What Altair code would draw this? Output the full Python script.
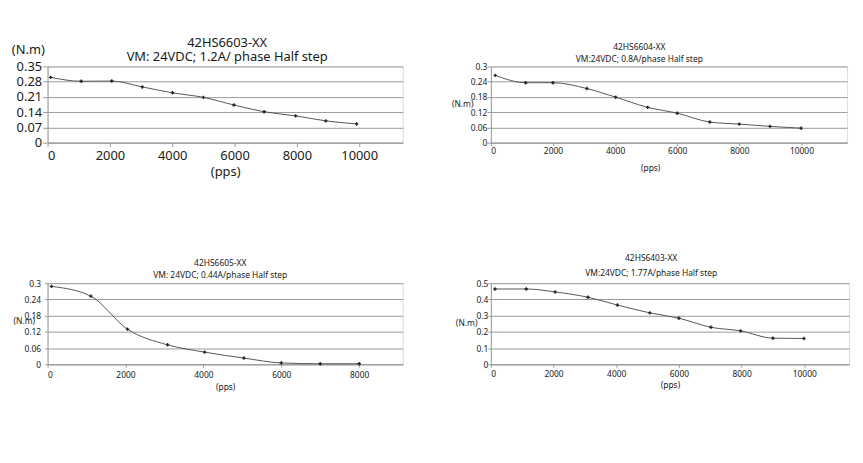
import altair as alt
import pandas as pd

# ---- data ----
p1_x = [100, 1080, 2060, 3040, 4010, 5000, 5980, 6950, 7960, 8930, 9920]
p1_y = [0.300, 0.282, 0.283, 0.256, 0.229, 0.208, 0.173, 0.142, 0.123, 0.100, 0.086]
p1_title = ["42HS6603-XX", "VM: 24VDC; 1.2A/ phase  Half step"]
p1_yticks = [0, 0.07, 0.14, 0.21, 0.28, 0.35]

p2_x = [140, 1120, 2000, 3090, 4020, 5050, 6000, 7050, 8000, 8990, 9990]
p2_y = [0.265, 0.236, 0.236, 0.213, 0.179, 0.139, 0.116, 0.081, 0.073, 0.064, 0.057]
p2_title = ["42HS6604-XX", "VM:24VDC; 0.8A/phase Half step"]
p2_yticks = [0, 0.06, 0.12, 0.18, 0.24, 0.3]

p3_x = [100, 1110, 2050, 3080, 4030, 5040, 6000, 7000, 8000]
p3_y = [0.288, 0.252, 0.130, 0.072, 0.045, 0.023, 0.005, 0.002, 0.002]
p3_title = ["42HS6605-XX", "VM: 24VDC; 0.44A/phase  Half step"]
p3_yticks = [0, 0.06, 0.12, 0.18, 0.24, 0.3]

p4_x = [130, 1130, 2050, 3100, 4040, 5070, 6000, 7020, 7970, 9000, 9990]
p4_y = [0.464, 0.464, 0.446, 0.413, 0.365, 0.317, 0.284, 0.228, 0.206, 0.161, 0.159]
p4_title = ["42HS6403-XX", "VM:24VDC; 1.77A/phase Half step"]
p4_yticks = [0, 0.1, 0.2, 0.3, 0.4, 0.5]

x_ticks_10k = [0, 2000, 4000, 6000, 8000, 10000]
x_ticks_8k = [0, 2000, 4000, 6000, 8000]

FONT = "Noto Sans"
TXT = "#1a1a1a"
GRID = "#9a9a9a"


def panel(xs, ys, title, yticks, ymax, xticks, xmax, w, h, fs,
          t_dx, t_off, t_lh, yt_x, yt_y, y_tick, y_pad, x_tick, x_pad,
          xt_pad, xt_x=None):
    df = pd.DataFrame({"pps": xs, "nm": ys})
    xaxis = dict(values=xticks, format="d", grid=False, labelFontSize=fs,
                 titleFontSize=fs, tickSize=x_tick, labelPadding=x_pad,
                 titlePadding=xt_pad, titleFontWeight="normal",
                 domainColor=GRID, tickColor=GRID, labelColor=TXT,
                 titleColor=TXT, labelFont=FONT, titleFont=FONT)
    if xt_x is not None:
        xaxis["titleX"] = xt_x
    x = alt.X("pps:Q", title="(pps)",
              scale=alt.Scale(domain=[0, xmax], nice=False, zero=True),
              axis=alt.Axis(**xaxis))
    y = alt.Y("nm:Q", title="(N.m)",
              scale=alt.Scale(domain=[0, ymax], nice=False),
              axis=alt.Axis(values=yticks, format=".2~f", grid=True,
                            gridColor=GRID, gridWidth=1, labelFontSize=fs,
                            titleFontSize=fs, tickSize=y_tick,
                            labelPadding=y_pad, titleAngle=0,
                            titleX=yt_x, titleY=yt_y, titleAlign="center",
                            titleBaseline="middle", titleFontWeight="normal",
                            domainColor=GRID, tickColor=GRID,
                            labelColor=TXT, titleColor=TXT,
                            labelFont=FONT, titleFont=FONT))
    base = alt.Chart(df)
    line = base.mark_line(color="#555555", strokeWidth=1,
                          interpolate="monotone").encode(x=x, y=y)
    pts = base.mark_point(shape="cross", size=12, filled=True,
                          color="#222222", opacity=1).encode(x=x, y=y)
    return alt.layer(line, pts).properties(
        width=w, height=h,
        title=alt.TitleParams(text=title, fontSize=fs, fontWeight="normal",
                              font=FONT, color=TXT, anchor="middle",
                              dx=t_dx, offset=t_off, lineHeight=t_lh))


c1 = panel(p1_x, p1_y, p1_title, p1_yticks, 0.35, x_ticks_10k, 11400,
           359, 77, 13, 2, -20.5, 14, -20, -17, 5, 1, 4, 3, 3)
c2 = panel(p2_x, p2_y, p2_title, p2_yticks, 0.3, x_ticks_10k, 11470,
           360, 77, 8.5, -30, -1, 12, -29, 37, 4, 0, 3, 1, 9, 161)
c3 = panel(p3_x, p3_y, p3_title, p3_yticks, 0.3, x_ticks_8k, 9120,
           359, 82, 8.5, -5, 0, 12, -24, 38, 3, 4, 3, 3, 4)
c4 = panel(p4_x, p4_y, p4_title, p4_yticks, 0.5, x_ticks_10k, 11430,
           362, 82, 8.5, -19, 1.5, 15, -25, 40, 3, 0, 3, 2, 3)

chart = alt.concat(c1, c2, c3, c4, columns=2, bounds="flush",
                   spacing={"row": 142, "column": 89}).properties(
    padding={"left": 2, "top": 27, "right": 5, "bottom": 5}
).configure_view(stroke=GRID, strokeWidth=1).configure(background="white")

chart.save("out.html", embed_options={"renderer": "svg", "actions": False})
